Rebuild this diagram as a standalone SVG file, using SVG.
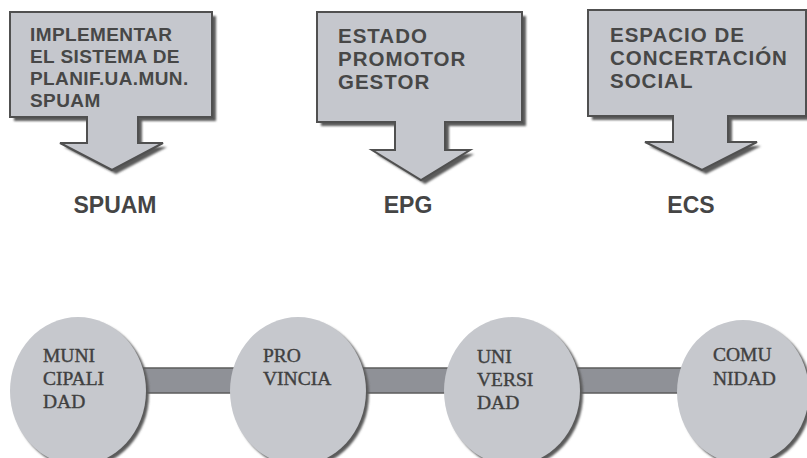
<svg xmlns="http://www.w3.org/2000/svg" width="807" height="458" viewBox="0 0 807 458">
<defs>
<filter id="soft" x="-10%" y="-10%" width="120%" height="120%"><feGaussianBlur stdDeviation="1"/></filter>
</defs>
<style>
.shadow{fill:#5a5a5a;filter:url(#soft)}
.callout{fill:#c5c7cd;stroke:#505050;stroke-width:2;stroke-linejoin:miter}
.ctext{font-family:"Liberation Sans",Arial,sans-serif;font-weight:bold;fill:#474747}
.abbr{font-family:"Liberation Sans",Arial,sans-serif;font-weight:bold;font-size:23px;fill:#454545;text-anchor:middle}
.circle{fill:#c6c8cd}
.ntext{font-family:"Liberation Serif","Times New Roman",serif;font-size:19.5px;fill:#404040;stroke:#404040;stroke-width:0.4}
.bar{fill:#8f9197;stroke:#5c5c5c;stroke-width:1.5}
</style>
<rect width="807" height="458" fill="#ffffff"/>

<g id="connectors">
<rect class="bar" x="140" y="368" width="96" height="25"/>
<rect class="bar" x="360" y="368" width="90" height="25"/>
<rect class="bar" x="573" y="368" width="110" height="25"/>
</g>

<g id="callout-spuam">
<polygon class="shadow" transform="translate(4,4)" points="10,12 212,12 212,117 138,117 138,143 163,143 112,170 60,143 87,143 87,117 10,117"/>
<polygon class="callout" points="10,12 212,12 212,117 138,117 138,143 163,143 112,170 60,143 87,143 87,117 10,117"/>
<text class="ctext" font-size="19" letter-spacing="0.4" x="30" y="41">IMPLEMENTAR</text>
<text class="ctext" font-size="19" letter-spacing="0.4" x="30" y="63">EL SISTEMA DE</text>
<text class="ctext" font-size="19" letter-spacing="0.4" x="30" y="85">PLANIF.UA.MUN.</text>
<text class="ctext" font-size="19" letter-spacing="0.4" x="30" y="107">SPUAM</text>
</g>

<g id="callout-epg">
<polygon class="shadow" transform="translate(4,4)" points="317,12 522,12 522,122 445,122 445,150 470,150 421,180 372,150 395,150 395,122 317,122"/>
<polygon class="callout" points="317,12 522,12 522,122 445,122 445,150 470,150 421,180 372,150 395,150 395,122 317,122"/>
<text class="ctext" font-size="20.5" letter-spacing="1" x="338" y="43">ESTADO</text>
<text class="ctext" font-size="20.5" letter-spacing="1" x="338" y="66">PROMOTOR</text>
<text class="ctext" font-size="20.5" letter-spacing="1" x="338" y="89">GESTOR</text>
</g>

<g id="callout-ecs">
<polygon class="shadow" transform="translate(4,4)" points="588,10 806,10 806,116 728,116 728,142 757,142 702,170 645,142 673,142 673,116 588,116"/>
<polygon class="callout" points="588,10 806,10 806,116 728,116 728,142 757,142 702,170 645,142 673,142 673,116 588,116"/>
<text class="ctext" font-size="20.5" letter-spacing="1" x="610" y="42">ESPACIO DE</text>
<text class="ctext" font-size="20.5" letter-spacing="1" x="610" y="65">CONCERTACIÓN</text>
<text class="ctext" font-size="20.5" letter-spacing="1" x="610" y="88">SOCIAL</text>
</g>

<g id="label-spuam"><text class="abbr" x="115" y="213">SPUAM</text></g>
<g id="label-epg"><text class="abbr" x="408" y="213">EPG</text></g>
<g id="label-ecs"><text class="abbr" x="691" y="213">ECS</text></g>

<g id="node-municipalidad">
<ellipse class="shadow" cx="81" cy="394" rx="68" ry="74"/>
<ellipse class="circle" cx="78" cy="391" rx="68" ry="74"/>
<text class="ntext" x="43" y="362">MUNI</text>
<text class="ntext" x="43" y="385">CIPALI</text>
<text class="ntext" x="43" y="408">DAD</text>
</g>

<g id="node-provincia">
<ellipse class="shadow" cx="301" cy="394" rx="68" ry="74"/>
<ellipse class="circle" cx="298" cy="391" rx="68" ry="74"/>
<text class="ntext" x="263" y="362">PRO</text>
<text class="ntext" x="263" y="385">VINCIA</text>
</g>

<g id="node-universidad">
<ellipse class="shadow" cx="515" cy="394" rx="68" ry="74"/>
<ellipse class="circle" cx="512" cy="391" rx="68" ry="74"/>
<text class="ntext" x="477" y="363">UNI</text>
<text class="ntext" x="477" y="386">VERSI</text>
<text class="ntext" x="477" y="409">DAD</text>
</g>

<g id="node-comunidad">
<ellipse class="shadow" cx="746" cy="395" rx="66" ry="72"/>
<ellipse class="circle" cx="743" cy="392" rx="66" ry="72"/>
<text class="ntext" x="713" y="361">COMU</text>
<text class="ntext" x="713" y="385">NIDAD</text>
</g>
</svg>
